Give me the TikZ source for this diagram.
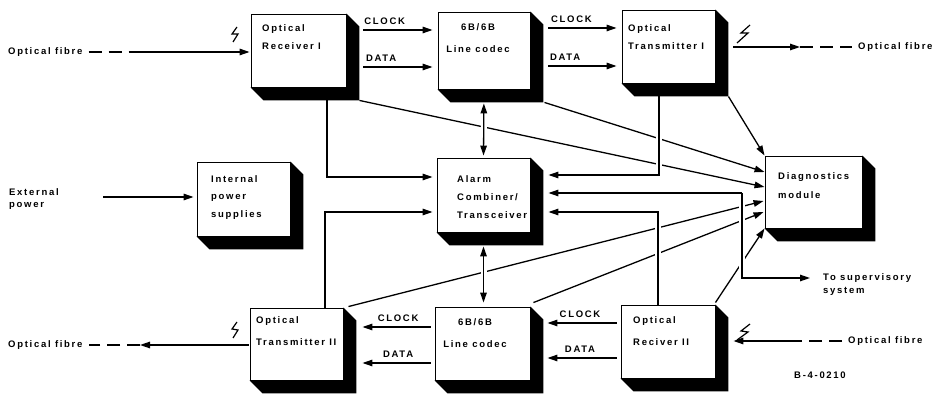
\documentclass[tikz,border=0pt]{standalone}
\usepackage{fontspec}
\setmainfont{Liberation Sans}[LetterSpace=18]
\usetikzlibrary{arrows.meta,calc,fit}
\newcommand\boxshadow[1]{\fill (#1.north east) -- ++(13,13) -- ($(#1.south east)+(13,13)$) -- ($(#1.south west)+(13,13)$) -- (#1.south west) -- (#1.south east) -- cycle;}
\begin{document}
\begin{tikzpicture}[x=1pt,y=-1pt,
  every node/.style={font=\bfseries\fontsize{9.5}{18}\selectfont},
  box/.style={draw, line width=0.9pt, fill=white, inner sep=0pt},
  lbl/.style={anchor=north west, align=left, inner sep=0pt},
  txt/.style={inner sep=0pt},
  ln/.style={line width=1.3pt},
  arr/.style={ln, -{Triangle[length=10pt,width=6.5pt]}},
  darr/.style={ln, {Triangle[length=10pt,width=6.5pt]}-{Triangle[length=10pt,width=6.5pt]}},
  dsh/.style={ln, dash pattern=on 13pt off 7pt},
  halo/.style={draw=white, line width=6pt, shorten <=5pt, shorten >=5pt},
  bolt/.style={line width=1.2pt}]
\useasboundingbox (0,0) rectangle (938,398);
% boxes
\node[box, fit={(251,14) (346,87)}] (r1) {};
\node[box, fit={(438,12) (530,89)}] (c1) {};
\node[box, fit={(622,10) (715,83)}] (t1) {};
\node[box, fit={(197,162) (290,236)}] (ps) {};
\node[box, fit={(437,158) (530,232)}] (al) {};
\node[box, fit={(765,156) (862,228)}] (dg) {};
\node[box, fit={(250,308) (343,380)}] (t2) {};
\node[box, fit={(435,307) (530,380)}] (c2) {};
\node[box, fit={(621,305) (715,378)}] (r2) {};
\boxshadow{r1}\boxshadow{c1}\boxshadow{t1}\boxshadow{ps}\boxshadow{al}
\boxshadow{dg}\boxshadow{t2}\boxshadow{c2}\boxshadow{r2}
% box texts
\node[lbl] (r1t) at (262,24) {Optical\\Receiver I};
\node[lbl, align=center, anchor=north, font=\bfseries\fontsize{9.5}{22}\selectfont] (c1t) at (478,23) {6B/6B\\Line codec};
\node[lbl] (t1t) at (628,24) {Optical\\Transmitter I};
\node[lbl, font=\bfseries\fontsize{9.5}{17.5}\selectfont] (pst) at (211,175) {Internal\\power\\supplies};
\node[lbl] (alt) at (457,175) {Alarm\\Combiner/\\Transceiver};
\node[lbl, font=\bfseries\fontsize{9.5}{19}\selectfont] (dgt) at (778,172) {Diagnostics\\module};
\node[lbl, font=\bfseries\fontsize{9.5}{22}\selectfont] (t2t) at (256,316) {Optical\\Transmitter II};
\node[lbl, align=center, anchor=north, font=\bfseries\fontsize{9.5}{22}\selectfont] (c2t) at (475,318) {6B/6B\\Line codec};
\node[lbl, font=\bfseries\fontsize{9.5}{22}\selectfont] (r2t) at (633,316) {Optical\\Reciver II};
% outside texts
\node[txt, anchor=west] (f1) at (8,52) {Optical fibre};
\node[txt, anchor=west] (f2) at (858,47) {Optical fibre};
\node[txt, anchor=west] (f3) at (8,345) {Optical fibre};
\node[txt, anchor=west] (f4) at (848,341) {Optical fibre};
\node[lbl, font=\bfseries\fontsize{9.5}{12}\selectfont] (ext) at (9,188) {External\\power};
\node[lbl, font=\bfseries\fontsize{9.5}{13}\selectfont] (sup) at (823,273) {To supervisory\\system};
\node[txt, anchor=west] (ref) at (794,375) {B-4-0210};
% coordinates
\coordinate (f1a) at (140,52);
\coordinate (f2a) at (800,47);
\coordinate (f3a) at (140,345);
\coordinate (f4a) at (797,341);
\coordinate (k1) at (327,177);
\coordinate (k2) at (325,212);
\coordinate (k3) at (659,175);
\coordinate (k4) at (658,212);
\coordinate (k5) at (742,193);
\coordinate (k6) at (810,278);
% diagonals to diagnostics
\draw[arr] ($(t1.south east)+(13,13)$) -- (dg.north west);
\draw[arr] ($(c1.south east)+(14,13)$) -- (dg.west |- 0,172);
\draw[arr] ($(r1.south east)+(13,13)$) -- (dg.west |- 0,187);
\draw[arr] ($(t2.north east)+(5,-1)$) -- ($(dg.west |- 0,201)+(-1,0)$);
\draw[arr] ($(c2.north east)+(3,-4)$) -- ($(dg.west |- 0,212)+(-1,0)$);
\draw[arr] ($(r2.north east)+(0,-2)$) -- (dg.south west);
% halos where verticals cross
\draw[halo] ($(c1.south)+(0,13)$) -- (al.north);
\draw[halo] ($(al.south)+(0,13)$) -- (al.south |- c2.north);
\draw[halo] ($(t1.south -| k3)+(0,13)$) -- (k3);
\draw[halo] (r2.north -| k4) -- (k4);
\draw[halo] (k5) -- (k5 |- k6);
% fibre links
\draw[dsh] ($(f1.east)+(6,0)$) -- (f1a);
\draw[arr, shorten >=1pt] (f1a) -- (r1.west |- f1a);
\draw[arr, shorten <=18pt] (t1.east |- f2a) -- (f2a);
\draw[dsh] (f2a) -- ($(f2.west)+(-6,0)$);
\draw[arr, shorten <=1pt] (t2.west |- f3a) -- (f3a);
\draw[dsh] (f3a) -- ($(f3.east)+(6,0)$);
\draw[dsh] ($(f4.west)+(-6,0)$) -- (f4a);
\draw[arr, shorten >=18pt] (f4a) -- (r2.east |- f4a);
% lightning marks
\draw[bolt] (237,27) -- (232,34) -- (238,34) -- (233,42);
\draw[bolt] (750,25) -- (741,33) -- (748,33) -- (737,43);
\draw[bolt] (237,322) -- (232,329) -- (238,330) -- (233,338);
\draw[bolt] (750,324) -- (741,331) -- (748,332) -- (737,340);
% clock/data top
\draw[arr, shorten <=17pt, shorten >=5pt] (r1.east |- 0,30) -- node[txt, pos=0.42, above=5pt] (cl1) {CLOCK} (c1.west |- 0,30);
\draw[arr, shorten <=17pt, shorten >=5pt] (r1.east |- 0,67) -- node[txt, pos=0.38, above=5pt] (da1) {DATA} (c1.west |- 0,67);
\draw[arr, shorten <=18pt, shorten >=5pt] (c1.east |- 0,28) -- node[txt, pos=0.45, above=5pt] (cl2) {CLOCK} (t1.west |- 0,28);
\draw[arr, shorten <=18pt, shorten >=5pt] (c1.east |- 0,66) -- node[txt, pos=0.38, above=5pt] (da2) {DATA} (t1.west |- 0,66);
% clock/data bottom
\draw[arr, shorten <=4pt, shorten >=17pt] (r2.west |- 0,323) -- node[txt, pos=0.45, above=5pt] (cl3) {CLOCK} (c2.east |- 0,323);
\draw[arr, shorten <=4pt, shorten >=17pt] (r2.west |- 0,358) -- node[txt, pos=0.45, above=5pt] (da3) {DATA} (c2.east |- 0,358);
\draw[arr, shorten <=4pt, shorten >=19pt] (c2.west |- 0,327) -- node[txt, pos=0.4, above=5pt] (cl4) {CLOCK} (t2.east |- 0,327);
\draw[arr, shorten <=4pt, shorten >=19pt] (c2.west |- 0,363) -- node[txt, pos=0.4, above=5pt] (da4) {DATA} (t2.east |- 0,363);
% power
\draw[arr, shorten >=3pt] (103,197) -- (ps.west |- 0,197);
% alarm connections
\draw[arr, shorten <=13pt, shorten >=4pt] (r1.south -| k1) |- (al.west |- k1);
\draw[arr, shorten >=4pt] (t2.north -| k2) |- (al.west |- k2);
\draw[darr, shorten <=14pt, shorten >=2pt] (c1.south) -- (al.north);
\draw[darr, shorten <=14pt, shorten >=4pt] (al.south) -- (al.south |- c2.north);
\draw[arr, shorten <=13pt, shorten >=18pt] (t1.south -| k3) |- (al.east |- k3);
\draw[arr, shorten >=18pt] (r2.north -| k4) |- (al.east |- k4);
\draw[arr, shorten >=18pt] (k5) -- (al.east |- k5);
\draw[arr] (k5) |- (k6);
\end{tikzpicture}
\end{document}
